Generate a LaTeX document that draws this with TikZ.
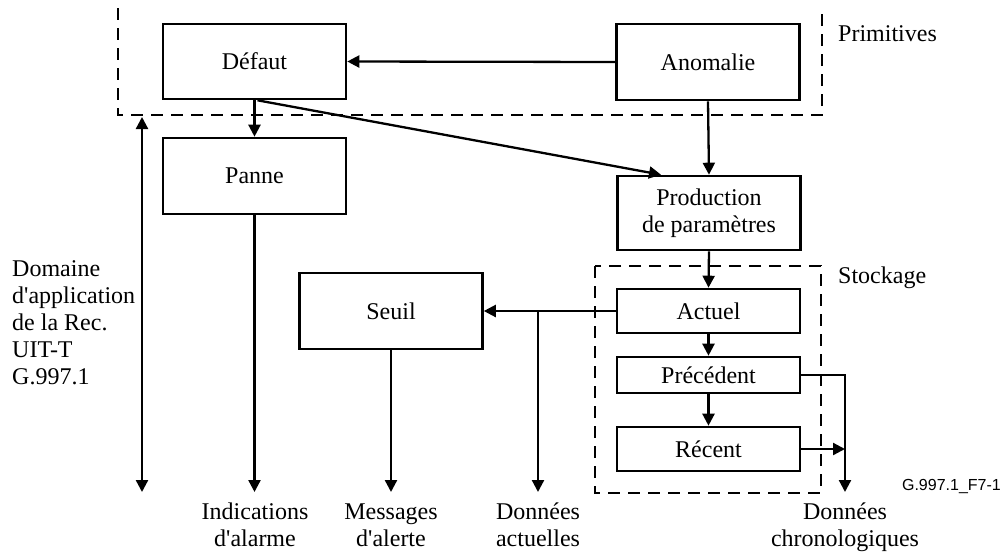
\documentclass[tikz,border=0pt]{standalone}
\usepackage{fontspec}
\setmainfont{Liberation Serif}
\newfontfamily\arialfont{Liberation Sans}
\usetikzlibrary{arrows.meta}
\begin{document}
\begin{tikzpicture}[x=1pt,y=-1pt,
 box/.style={draw,line width=2.6pt,minimum width=183pt,inner sep=0pt,align=center,font=\fontsize{24}{27}\selectfont},
 arr/.style={line width=2.3pt,-{Triangle[length=12pt,width=12pt]}},
 dblarr/.style={line width=2.3pt,{Triangle[length=12pt,width=12pt]}-{Triangle[length=12pt,width=12pt]}},
 dbox/.style={line width=2.3pt,dash pattern=on 12pt off 8pt},
 lbl/.style={font=\fontsize{24}{27}\selectfont,inner sep=0pt},
]
\useasboundingbox (0,0) rectangle (1002,552);
% boxes
\node[box,minimum height=75pt] (def) at (254.5,61.5) {Défaut};
\node[box,minimum height=76pt] (ano) at (708,62) {Anomalie};
\node[box,minimum height=76pt] (pan) at (254.5,176) {Panne};
\node[box,minimum height=74pt] (prod) at (709,213) {Production\\de paramètres};
\node[box,minimum height=76pt] (seu) at (391,311) {Seuil};
\node[box,minimum height=44pt] (act) at (708.5,311) {Actuel};
\node[box,minimum height=36pt] (pre) at (708.5,375) {Précédent};
\node[box,minimum height=44pt] (rec) at (708.5,449) {Récent};
% dashed groups
\draw[dbox] (118,8) -- (118,115) -- (822,115) -- (822,13);
\draw[dbox] (595,266) rectangle (821,493);
% labels
\node[lbl,anchor=base west] (prim) at (838,41.5) {Primitives};
\node[lbl,anchor=base west] (sto) at (838,283) {Stockage};
\node[lbl,anchor=base west,align=left] (dom) at (12,384) {Domaine\\d\textquotesingle application\\de la Rec.\\UIT-T\\G.997.1};
\node[lbl,anchor=base,align=center] (ind) at (255,546) {Indications\\d\textquotesingle alarme};
\node[lbl,anchor=base,align=center] (msg) at (391,546) {Messages\\d\textquotesingle alerte};
\node[lbl,anchor=base,align=center] (dac) at (538,546) {Données\\actuelles};
\node[lbl,anchor=base,align=center] (dch) at (845,546) {Données\\chronologiques};
\node[inner sep=0pt,anchor=base east,font=\arialfont\fontsize{16}{19}\selectfont] (ref) at (1001,490) {G.997.1\_F7-1};
% coordinates
\coordinate (bot) at (0,492);
\coordinate (br) at (538,311);
\coordinate (chx) at (845,375);
\coordinate (dtop) at (142,117);
% connectors
\draw[arr] (ano.west) -- (def.east);
\draw[arr] (def.south) -- (pan.north);
\draw[arr] ([xshift=3pt]def.south) -- ([xshift=-48pt]prod.north);
\draw[arr] (ano.south) -- (prod.north);
\draw[arr] (prod.south) -- (act.north);
\draw[arr] (act.west) -- (seu.east);
\draw[arr] (br) -- (br |- bot);
\draw[arr] (act.south) -- (pre.north);
\draw[arr] (pre.south) -- (rec.north);
\draw[arr] (pre.east) -- (chx) -- (chx |- bot);
\draw[arr] (rec.east) -- (rec.east -| chx);
\draw[arr] (pan.south) -- (pan.south |- bot);
\draw[arr] (seu.south) -- (seu.south |- bot);
\draw[dblarr] (dtop) -- (dtop |- bot);
\end{tikzpicture}
\end{document}
